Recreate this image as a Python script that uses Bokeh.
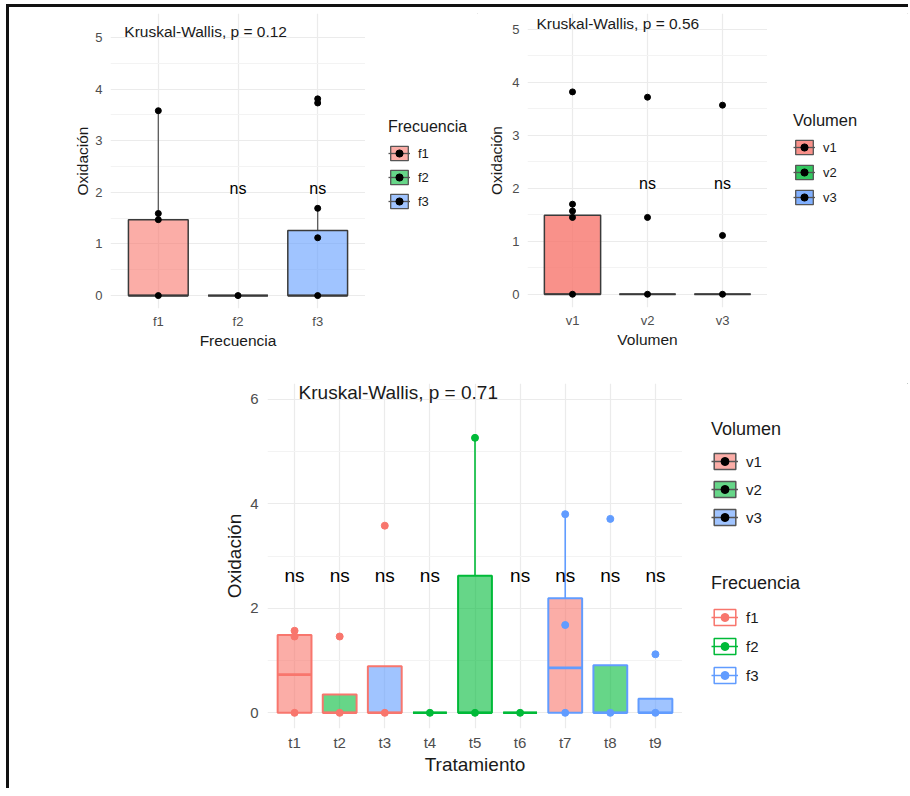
from bokeh.plotting import figure
from bokeh.models import (Range1d, FactorRange, FixedTicker, Legend, LegendItem,
                          ColumnDataSource, Spacer)
from bokeh.transform import dodge
from bokeh.layouts import row, column
from bokeh.embed import file_html
from bokeh.resources import INLINE
from bokeh.core.properties import value

# ---------------- data ----------------
RED, GREEN, BLUE = "#F8766D", "#00BA38", "#619CFF"
PAL = [RED, GREEN, BLUE]

# Panel 1 : Frecuencia
freq_groups = ["f1", "f2", "f3"]
freq_q1 = [0.0, 0.0, 0.0]
freq_med = [0.0, 0.0, 0.0]
freq_q3 = [1.47, 0.0, 1.26]
freq_lo = [0.0, 0.0, 0.0]
freq_hi = [3.58, 0.0, 1.69]
freq_pts_x = ["f1", "f1", "f1", "f1", "f2", "f3", "f3", "f3", "f3", "f3"]
freq_pts_y = [0.0, 1.47, 1.59, 3.58, 0.0, 0.0, 1.12, 1.69, 3.73, 3.81]
freq_ns = ["f2", "f3"]
freq_p = "Kruskal-Wallis, p = 0.12"

# Panel 2 : Volumen
vol_groups = ["v1", "v2", "v3"]
vol_q1 = [0.0, 0.0, 0.0]
vol_med = [0.0, 0.0, 0.0]
vol_q3 = [1.49, 0.0, 0.0]
vol_lo = [0.0, 0.0, 0.0]
vol_hi = [1.70, 0.0, 0.0]
vol_pts_x = ["v1", "v1", "v1", "v1", "v1", "v2", "v2", "v2", "v3", "v3", "v3"]
vol_pts_y = [0.0, 1.45, 1.57, 1.70, 3.82, 0.0, 1.45, 3.72, 0.0, 1.11, 3.57]
vol_ns = ["v2", "v3"]
vol_p = "Kruskal-Wallis, p = 0.56"

# Panel 3 : Tratamiento
trat_groups = ["t1", "t2", "t3", "t4", "t5", "t6", "t7", "t8", "t9"]
trat_freq = [0, 0, 0, 1, 1, 1, 2, 2, 2]     # index into f1..f3 (outline colour)
trat_vol = [0, 1, 2, 0, 1, 2, 0, 1, 2]      # index into v1..v3 (fill colour)
trat_q1 = [0, 0, 0, 0, 0, 0, 0, 0, 0]
trat_med = [0.73, 0.0, 0.0, 0.0, 0.0, 0.0, 0.86, 0.0, 0.0]
trat_q3 = [1.49, 0.35, 0.89, 0.0, 2.62, 0.0, 2.19, 0.91, 0.27]
trat_lo = [0, 0, 0, 0, 0, 0, 0, 0, 0]
trat_hi = [1.57, 0.35, 0.89, 0.0, 5.26, 0.0, 3.80, 0.91, 0.27]
trat_pts_x = ["t1", "t1", "t1", "t2", "t2", "t3", "t3", "t4", "t5", "t5", "t6",
              "t7", "t7", "t7", "t8", "t8", "t9", "t9"]
trat_pts_y = [0.0, 1.46, 1.57, 0.0, 1.46, 0.0, 3.58, 0.0, 0.0, 5.26, 0.0,
              0.0, 1.68, 3.80, 0.0, 3.71, 0.0, 1.12]
trat_ns = ["t1", "t2", "t3", "t4", "t6", "t7", "t8", "t9"]
trat_p = "Kruskal-Wallis, p = 0.71"

vol_labels = ["v1", "v2", "v3"]
freq_labels = ["f1", "f2", "f3"]

FONT = "Liberation Sans"
TICK_COL = "#4D4D4D"


def base_fig(factors, yr, ticks, minor, fw, fh, ml, mr, mt, mb, tick_fs, title_fs,
             xlabel, ylab_stand, xlab_stand, ylabel_standoff, xlabel_standoff):
    p = figure(x_range=FactorRange(*factors, range_padding=0.1, range_padding_units="absolute"),
               y_range=Range1d(*yr), frame_width=fw, frame_height=fh, title=None,
               min_border_left=ml, min_border_right=mr, min_border_top=mt, min_border_bottom=mb,
               output_backend="svg", toolbar_location=None, tools="")
    p.outline_line_color = None
    p.background_fill_color = "white"
    p.border_fill_color = "white"
    p.yaxis.ticker = FixedTicker(ticks=ticks, minor_ticks=minor)
    for ax in (p.xaxis[0], p.yaxis[0]):
        ax.axis_line_color = None
        ax.major_tick_line_color = None
        ax.minor_tick_line_color = None
        ax.major_tick_out = 0
        ax.major_tick_in = 0
        ax.minor_tick_out = 0
        ax.minor_tick_in = 0
        ax.major_label_text_font = FONT
        ax.major_label_text_font_size = tick_fs
        ax.major_label_text_color = TICK_COL
        ax.axis_label_text_font = FONT
        ax.axis_label_text_font_size = title_fs
        ax.axis_label_text_font_style = "normal"
        ax.axis_label_text_color = "#1A1A1A"
    p.yaxis.major_label_standoff = ylab_stand
    p.xaxis.major_label_standoff = xlab_stand
    p.yaxis.axis_label_standoff = ylabel_standoff
    p.xaxis.axis_label_standoff = xlabel_standoff
    p.yaxis.axis_label = "Oxidación"
    p.xaxis.axis_label = xlabel
    p.xgrid.grid_line_color = "#EBEBEB"
    p.xgrid.grid_line_width = 1.2
    p.ygrid.grid_line_color = "#EBEBEB"
    p.ygrid.grid_line_width = 1.2
    p.ygrid.minor_grid_line_color = "#F3F3F3"
    p.ygrid.minor_grid_line_width = 1.0
    return p


def draw_boxes(p, groups, q1, med, q3, lo, hi, fills, fill_alpha, lines, lw, wcol, wlw):
    src = ColumnDataSource(dict(g=groups, q1=q1, med=med, q3=q3, lo=lo, hi=hi,
                                fill=fills, line=lines, wcol=wcol))
    p.segment(x0="g", y0="q3", x1="g", y1="hi", line_color="wcol", line_width=wlw, source=src)
    p.segment(x0="g", y0="q1", x1="g", y1="lo", line_color="wcol", line_width=wlw, source=src)
    p.vbar(x="g", bottom="q1", top="q3", width=0.75, fill_color="fill", fill_alpha=fill_alpha,
           line_color="line", line_width=lw, source=src)
    p.segment(x0=dodge("g", -0.375, range=p.x_range), x1=dodge("g", 0.375, range=p.x_range),
              y0="med", y1="med", line_color="line", line_width=lw + 0.6, source=src)


def add_texts(p, ns_groups, ns_y, ns_fs, ptxt, p_group, p_y, p_off, p_fs):
    p.text(x=ns_groups, y=[ns_y] * len(ns_groups), text=["ns"] * len(ns_groups),
           text_align="center", text_baseline="middle", text_font=value(FONT),
           text_font_size=ns_fs, text_color="#000000")
    p.text(x=[p_group], y=[p_y], text=[ptxt], x_offset=p_off, text_align="left",
           text_baseline="middle", text_font=value(FONT), text_font_size=p_fs,
           text_color="#1A1A1A")


def legend_fig(w, h):
    f = figure(width=w, height=h, x_range=Range1d(0, 1), y_range=Range1d(0, 1), title=None,
               x_axis_type=None, y_axis_type=None, min_border=0,
               output_backend="svg", toolbar_location=None, tools="")
    f.outline_line_color = None
    f.grid.grid_line_color = None
    f.background_fill_color = "white"
    f.border_fill_color = "white"
    return f


def make_legend(p, title, labels, fills, fill_alpha, lines, dots, loc, gw, gh, spacing,
                title_fs, label_fs, title_standoff, lw):
    # key renderers hold one point placed outside the (0, 1) view of the legend canvas
    items = []
    for lab, fc, lc, dc in zip(labels, fills, lines, dots):
        rb = p.vbar(x=[10], top=[11], bottom=[10], width=0.5, fill_color=fc,
                    fill_alpha=fill_alpha, line_color=lc, line_width=lw)
        rl = p.line(x=[10, 11], y=[10, 10], line_color=lc, line_width=lw)
        rd = p.scatter(x=[10], y=[10], size=6, color=dc)
        items.append(LegendItem(label=lab, renderers=[rb, rl, rd]))
    lg = Legend(items=items, title=title, location=loc, glyph_width=gw, glyph_height=gh,
                label_height=gh, spacing=spacing, padding=0, margin=0,
                border_line_color=None, background_fill_alpha=0,
                title_text_font=FONT, title_text_font_size=title_fs,
                title_text_font_style="normal", title_text_color="#1A1A1A",
                title_standoff=title_standoff, label_text_font=FONT,
                label_text_font_size=label_fs, label_text_color="#1A1A1A",
                label_standoff=8)
    p.add_layout(lg)
    return lg


# ---------------- panel 1 ----------------
p1 = base_fig(freq_groups, (-0.25, 5.463), [0, 1, 2, 3, 4, 5], [0.5, 1.5, 2.5, 3.5, 4.5],
              255, 295, 101, 0, 6, 60, "13px", "15.5px", "Frecuencia", 8, 5, 1, 0)
draw_boxes(p1, freq_groups, freq_q1, freq_med, freq_q3, freq_lo, freq_hi,
           PAL, 0.6, ["#3A3A3A"] * 3, 1.5, ["#5A5A5A"] * 3, 1.3)
p1.scatter(x=freq_pts_x, y=freq_pts_y, size=6, color="black")
add_texts(p1, freq_ns, 2.08, "16px", freq_p, "f1", 5.12, -34, "15.5px")
L1 = legend_fig(113, 361)
make_legend(L1, "Frecuencia", freq_labels, PAL, 0.6, ["#555555"] * 3, ["black"] * 3,
            (23, 97), 22, 18, 6, "16px", "13px", 8, 1.3)

# ---------------- panel 2 ----------------
p2 = base_fig(vol_groups, (-0.25, 5.3), [0, 1, 2, 3, 4, 5], [0.5, 1.5, 2.5, 3.5, 4.5],
              240, 294, 49, 0, 6, 61, "13px", "15.5px", "Volumen", 8, 5, 4, 0)
draw_boxes(p2, vol_groups, vol_q1, vol_med, vol_q3, vol_lo, vol_hi,
           PAL, 0.8, ["#3A3A3A"] * 3, 1.5, ["#5A5A5A"] * 3, 1.3)
p2.scatter(x=vol_pts_x, y=vol_pts_y, size=6, color="black")
add_texts(p2, vol_ns, 2.09, "16px", vol_p, "v1", 5.11, -36, "15.5px")
L2 = legend_fig(141, 361)
make_legend(L2, "Volumen", vol_labels, PAL, 0.8, ["#555555"] * 3, ["black"] * 3,
            (26, 101), 22, 18, 7, "16.5px", "13px", 8, 1.3)

# ---------------- panel 3 ----------------
p3 = base_fig(trat_groups, (-0.3, 6.3), [0, 2, 4, 6], [1, 3, 5],
              415, 345, 79, 0, 15, 60, "15px", "19px", "Tratamiento", 9, 5, 2, 0)
t_fill = [PAL[i] for i in trat_vol]
t_line = [PAL[i] for i in trat_freq]
draw_boxes(p3, trat_groups, trat_q1, trat_med, trat_q3, trat_lo, trat_hi,
           t_fill, 0.6, t_line, 2, t_line, 1.6)
p3.scatter(x=trat_pts_x, y=trat_pts_y, size=7,
           color=[PAL[trat_freq[trat_groups.index(g)]] for g in trat_pts_x])
add_texts(p3, trat_ns, 2.62, "19px", trat_p, "t1", 6.13, 4, "19px")
L3 = legend_fig(226, 420)
make_legend(L3, "Volumen", vol_labels, PAL, 0.6, ["#555555"] * 3, ["black"] * 3,
            (29, 201), 27, 20, 8, "18px", "15px", 11, 1.5)
make_legend(L3, "Frecuencia", freq_labels, ["white"] * 3, 0.0, PAL, PAL,
            (29, 43), 27, 20, 9, "18px", "15px", 13, 1.5)

# ---------------- layout ----------------
bar = {"background-color": "#111111"}
top_bar = Spacer(width=899, height=3, styles=bar)
top_row = row(p1, L1, p2, L2)
bottom_row = row(Spacer(width=179, height=420), p3, L3)
main = column(top_bar, top_row, bottom_row)
body = row(Spacer(width=6, height=784), Spacer(width=3, height=784, styles=bar), main)
root = column(Spacer(width=908, height=4), body)

open("out.html", "w").write(file_html(root, INLINE))
